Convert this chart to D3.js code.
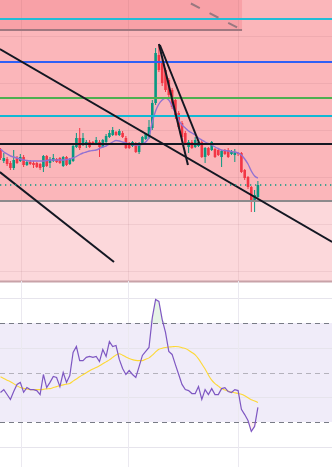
<!DOCTYPE html>
<html><head><meta charset="utf-8">
<script src="https://cdn.jsdelivr.net/npm/d3@7"></script>
<style>html,body{margin:0;padding:0;background:#fff;overflow:hidden}svg{display:block}</style>
</head><body><svg id="c" width="332" height="467"></svg>
<script>
// ---- data (price units) ----
const opens  = [550,539,541,537,532,542,539,543,535,538,537,537,536,533,544,537,539,541,542,534,543,536,539,553,562,556,555,558,558,557,558,553,558,563,565,568,565,567,562,557,554,557,548,557,561,562,572,597,645,637,630,620,610,600,587,577,567,553,558,553,554,558,543,552,550,551,550,543,550,550,546,545,547,547,530,523,513,500,503];
const highs  = [552,547,543,539,550,544,546,545,540,540,539,538,537,545,545,543,546,542,543,544,544,542,555,567,572,567,560,560,559,563,560,561,566,570,573,569,571,569,564,558,559,558,558,564,567,580,600,652,656,640,632,622,612,602,589,579,569,560,560,563,559,560,553,553,559,552,551,550,551,552,550,551,548,548,531,524,514,510,519];
const lows   = [540,537,534,530,530,536,538,533,534,535,532,532,530,528,533,532,538,537,536,533,534,535,538,552,550,554,552,552,555,556,543,552,557,562,564,564,564,562,551,551,553,547,546,556,560,561,570,595,628,614,608,603,591,581,571,561,555,547,551,552,553,542,537,544,549,542,544,533,545,542,545,538,544,527,520,511,488,488,502];
const closes = [542,542,536,532,540,537,543,535,538,536,535,533,532,544,534,541,542,538,537,543,535,541,554,562,552,562,558,553,556,560,553,560,564,567,570,565,569,563,552,552,558,548,557,563,566,573,597,647,630,617,610,605,593,583,573,563,557,558,552,560,558,543,552,545,558,543,545,549,546,543,549,548,546,528,522,513,500,505,515];
const maValues = [551,548,546,544,543,542,541,540,539.5,539,539,539,539,539,539.5,540,540,540,540,540,540.5,541,542,543.5,545.5,547,548,549,549.5,550,551.5,553,554,556,558,559.5,559,558,557,556,555.5,555,555,556,558,563,578,589,596,600,602,600,594,587,580,575,572,569,567,565,562,560,558,556.5,555,553,551.5,550,549.5,549,548.5,548,547,545,541,536,529,524,522];
const rsiValues = [41.9,43.1,41.1,39.1,42.3,45.2,46.0,42.0,43.9,43.1,43.1,42.7,41.1,49.2,43.9,46.0,48.4,48.0,44.3,50.0,46.0,48.8,58.1,60.5,54.8,54.8,56.1,56.5,56.1,56.5,54.4,59.3,56.5,62.5,60.5,60.9,55.3,51.6,49.2,50.8,49.2,48.0,52.4,56.9,58.5,60.1,72.2,79.5,78.7,71.4,66.2,58.5,57.3,53.2,49.2,45.2,43.1,42.7,41.5,41.5,44.3,39.1,43.1,41.1,43.5,41.1,41.1,43.5,43.9,42.3,41.9,43.1,42.7,35.1,33.0,30.6,26.2,28.2,35.9];
const rsiMaValues = [48.3,47.6,46.9,46.3,45.5,44.6,43.9,43.6,43.3,43.1,43.1,43.1,43.1,43.2,43.4,43.5,43.9,44.3,44.7,45.0,45.3,45.6,46.5,47.4,48.3,49.1,49.9,50.7,51.4,52.0,52.7,53.5,54.3,55.1,56.1,57.1,57.6,57.0,56.3,55.7,55.2,54.9,54.8,54.8,55.4,55.9,57.0,58.3,59.4,59.8,60.1,60.3,60.4,60.5,60.4,60.0,59.7,59.0,58.1,57.1,55.5,53.5,51.4,49.0,46.9,45.5,44.5,43.5,42.9,42.5,42.1,41.8,41.5,41.2,40.6,39.8,39.0,38.5,37.9];

const levelPrices = [681,638,602,584,556];
const levelColors = ["#22bcd6","#2f5ff5","#4caf50","#10b8d4","#131722"];
const zoneSplitPrice = 499;     // grey line / zone boundary
const topBoxPrice = 670;        // top box bottom edge
const topBoxEndIdx = 73.2;
const trendFrom = [[-0.2,651],[-0.2,528],[48.0,656],[48.3,655]];
const trendTo   = [[100.5,458],[34.4,438],[56.8,535],[60.2,557]];
const dashedFrom = [57.7,696.5];
const dashedTo   = [73.2,670];
const gridPrices = [664,617,570,523,476,429];
const gridIdx = [6.2,38.6,72.0];
const rsiGrid = [80,60,40,20];
const rsiBands = [70,50,30];

// ---- drawing ----
const W = 332, H = 467, mainH = 281;
const svg = d3.select("#c");
const x = d3.scaleLinear().domain([0,78]).range([0.5,257.9]);
const y = d3.scaleLinear().domain([419,700]).range([mainH,0]);
const yr = d3.scaleLinear().domain([30,70]).range([422,323]);

const defs = svg.append("defs");
defs.append("clipPath").attr("id","cm").append("rect").attr("x",0).attr("y",0).attr("width",W).attr("height",mainH);
defs.append("clipPath").attr("id","cr").append("rect").attr("x",0).attr("y",mainH).attr("width",W).attr("height",H-mainH);

const gm = svg.append("g").attr("clip-path","url(#cm)");
// backgrounds
gm.append("rect").attr("x",0).attr("y",0).attr("width",W).attr("height",y(zoneSplitPrice)).attr("fill","#fbb6ba");
gm.append("rect").attr("x",0).attr("y",y(zoneSplitPrice)).attr("width",W).attr("height",mainH-y(zoneSplitPrice)).attr("fill","#fcd8db");
gm.append("rect").attr("x",0).attr("y",0).attr("width",x(topBoxEndIdx)).attr("height",y(topBoxPrice)).attr("fill","#f8a1a7");
// grid
gm.selectAll("line.gh").data(gridPrices).join("line").attr("x1",0).attr("x2",W)
  .attr("y1",d=>y(d)+0.5).attr("y2",d=>y(d)+0.5).attr("stroke","rgba(120,70,80,0.09)").attr("stroke-width",1);
gm.selectAll("line.gv").data(gridIdx).join("line").attr("x1",d=>Math.round(x(d))+0.5).attr("x2",d=>Math.round(x(d))+0.5)
  .attr("y1",0).attr("y2",mainH).attr("stroke","rgba(120,70,80,0.09)").attr("stroke-width",1);

// candles
const idx = d3.range(opens.length);
const up = i => closes[i] >= opens[i];
const cUp = "#089981", cDn = "#f23645";
gm.selectAll("line.wick").data(idx).join("line")
  .attr("x1",i=>x(i)).attr("x2",i=>x(i)).attr("y1",i=>y(highs[i])).attr("y2",i=>y(lows[i]))
  .attr("stroke",i=>up(i)?cUp:cDn).attr("stroke-width",1);
const bw = 2.6;
gm.selectAll("rect.body").data(idx).join("rect")
  .attr("x",i=>x(i)-bw/2).attr("width",bw)
  .attr("y",i=>y(Math.max(opens[i],closes[i])))
  .attr("height",i=>Math.max(1,Math.abs(y(opens[i])-y(closes[i]))))
  .attr("fill",i=>up(i)?cUp:cDn);
// MA
gm.append("path").datum(idx).attr("fill","none").attr("stroke","#9272d2").attr("stroke-width",1.4)
  .attr("d",d3.line().x(i=>x(i)).y(i=>y(maValues[i])).curve(d3.curveMonotoneX));

// horizontal levels
gm.selectAll("line.lv").data(levelPrices).join("line").attr("x1",0).attr("x2",W)
  .attr("y1",d=>y(d)).attr("y2",d=>y(d)).attr("stroke",(d,i)=>levelColors[i]).attr("stroke-width",2);
// top box bottom edge
gm.append("line").attr("x1",0).attr("x2",x(topBoxEndIdx)).attr("y1",y(topBoxPrice)).attr("y2",y(topBoxPrice))
  .attr("stroke","#a07880").attr("stroke-width",2);
// dashed diagonal
gm.append("line").attr("x1",x(dashedFrom[0])).attr("y1",y(dashedFrom[1])).attr("x2",x(dashedTo[0])).attr("y2",y(dashedTo[1]))
  .attr("stroke","#9a7880").attr("stroke-width",2).attr("stroke-dasharray","10,11");
// zone split line
gm.append("line").attr("x1",0).attr("x2",W).attr("y1",y(zoneSplitPrice)).attr("y2",y(zoneSplitPrice))
  .attr("stroke","#8c8a8c").attr("stroke-width",2);
// trend lines
gm.selectAll("line.tl").data(d3.range(trendFrom.length)).join("line")
  .attr("x1",k=>x(trendFrom[k][0])).attr("y1",k=>y(trendFrom[k][1]))
  .attr("x2",k=>x(trendTo[k][0])).attr("y2",k=>y(trendTo[k][1]))
  .attr("stroke","#131722").attr("stroke-width",2);
// last price dotted
const last = closes[closes.length-1];
gm.append("line").attr("x1",0).attr("x2",W).attr("y1",y(last)).attr("y2",y(last))
  .attr("stroke",cUp).attr("stroke-width",1.3).attr("stroke-dasharray","1.3,3.7");

// divider
svg.append("line").attr("x1",0).attr("x2",W).attr("y1",mainH+0.5).attr("y2",mainH+0.5)
  .attr("stroke","#c8a2a8").attr("stroke-width",2);

// ---- RSI panel ----
const gr = svg.append("g").attr("clip-path","url(#cr)");
gr.append("rect").attr("x",0).attr("y",mainH+2).attr("width",W).attr("height",H-mainH-2).attr("fill","#ffffff");
gr.append("rect").attr("x",0).attr("y",yr(70)).attr("width",W).attr("height",yr(30)-yr(70)).attr("fill","#f0ecf9");
gr.selectAll("line.rg").data(rsiGrid).join("line").attr("x1",0).attr("x2",W)
  .attr("y1",d=>Math.round(yr(d))+0.5).attr("y2",d=>Math.round(yr(d))+0.5).attr("stroke","#e6e4ec").attr("stroke-width",1);
gr.selectAll("line.rv").data(gridIdx).join("line").attr("x1",d=>Math.round(x(d))+0.5).attr("x2",d=>Math.round(x(d))+0.5)
  .attr("y1",mainH).attr("y2",H).attr("stroke","#ebe9f0").attr("stroke-width",1);
gr.selectAll("line.rb").data(rsiBands).join("line").attr("x1",0).attr("x2",W)
  .attr("y1",d=>Math.round(yr(d))+0.5).attr("y2",d=>Math.round(yr(d))+0.5)
  .attr("stroke",d=>d===50?"#b4b2bc":"#787b86").attr("stroke-width",1).attr("stroke-dasharray","5,4");
// overbought / oversold fills
gr.append("path").datum(idx).attr("fill","rgba(76,175,80,0.14)")
  .attr("d",d3.area().x(i=>x(i)).y0(yr(70)).y1(i=>yr(Math.max(70,rsiValues[i]))));
gr.append("path").datum(idx).attr("fill","rgba(242,54,69,0.08)")
  .attr("d",d3.area().x(i=>x(i)).y0(yr(30)).y1(i=>yr(Math.min(30,rsiValues[i]))));
gr.append("path").datum(idx).attr("fill","none").attr("stroke","#fdd835").attr("stroke-width",1.1)
  .attr("d",d3.line().x(i=>x(i)).y(i=>yr(rsiMaValues[i])).curve(d3.curveMonotoneX));
gr.append("path").datum(idx).attr("fill","none").attr("stroke","#7e57c2").attr("stroke-width",1.2)
  .attr("d",d3.line().x(i=>x(i)).y(i=>yr(rsiValues[i])));
</script>
</body></html>
